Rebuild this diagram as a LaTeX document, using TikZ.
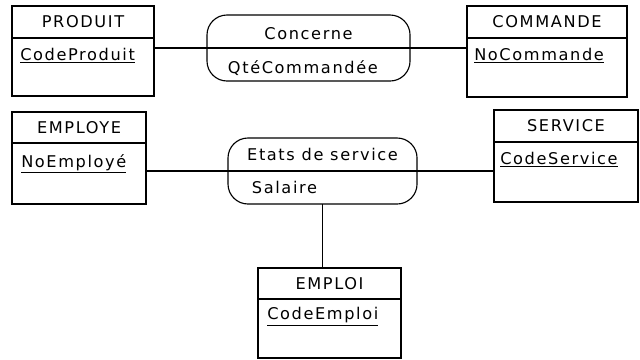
\documentclass[tikz,border=0pt]{standalone}
\usepackage{fontspec}
\newfontfamily\mcdfont[LetterSpace=10]{DejaVu Sans}
\usetikzlibrary{positioning, calc}

\begin{document}
\begin{tikzpicture}[
    x=0.025cm, y=-0.025cm,
    every node/.style={font=\mcdfont\fontsize{11.5}{13}\selectfont},
    entite/.style={draw, line width=0.8pt, inner sep=0pt, outer sep=0pt, minimum height=0.8cm, anchor=north west},
    corps/.style={draw, line width=0.8pt, inner sep=0pt, outer sep=0pt},
    relation/.style={draw, line width=0.8pt, rounded corners=0.5cm, minimum height=1.65cm, inner sep=0pt, outer sep=0pt, anchor=north west},
    attribut/.style={inner sep=0pt},
    lien/.style={line width=0.8pt}
]
    \useasboundingbox[fill=white] (0,0) rectangle (640,360);

    % entites
    \node[entite, minimum width=3.55cm] (produit) at (12,6) {PRODUIT};
    \node[corps, minimum width=3.55cm, minimum height=1.45cm, below=0pt of produit] (produitb) {};
    \node[attribut, below right=0.25cm and 0.2cm of produitb.north west] (codeproduit) {\underline{CodeProduit}};

    \node[entite, minimum width=4cm] (commande) at (467,6) {COMMANDE};
    \node[corps, minimum width=4cm, minimum height=1.475cm, below=0pt of commande] (commandeb) {};
    \node[attribut, below right=0.25cm and 0.175cm of commandeb.north west] (nocommande) {\underline{NoCommande}};

    \node[entite, minimum width=3.35cm, minimum height=0.775cm] (employe) at (12,112) {EMPLOYE};
    \node[corps, minimum width=3.35cm, minimum height=1.525cm, below=0pt of employe] (employeb) {};
    \node[attribut, below right=0.28cm and 0.225cm of employeb.north west] (noemploye) {\underline{NoEmployé}};

    \node[entite, minimum width=3.6cm] (service) at (494,110) {SERVICE};
    \node[corps, minimum width=3.6cm, minimum height=1.5cm, below=0pt of service] (serviceb) {};
    \node[attribut, below right=0.25cm and 0.15cm of serviceb.north west] (codeservice) {\underline{CodeService}};

    \node[entite, minimum width=3.575cm, minimum height=0.775cm] (emploi) at (258,268) {EMPLOI};
    \node[corps, minimum width=3.575cm, minimum height=1.475cm, below=0pt of emploi] (emploib) {};
    \node[attribut, below right=0.2cm and 0.225cm of emploib.north west] (codeemploi) {\underline{CodeEmploi}};

    % associations
    \node[relation, minimum width=5.075cm] (concerne) at (207,15) {};
    \draw[lien] (concerne.west) -- (concerne.east);
    \node (concernet) at ($(concerne.center)!0.45!(concerne.north)$) {Concerne};
    \node[anchor=west, xshift=0.4cm, yshift=-0.08cm] (qte) at ($(concerne.west)!0.5!(concerne.south west)$) {QtéCommandée};

    \node[relation, minimum width=4.725cm] (etats) at (228,138) {};
    \draw[lien] (etats.west) -- (etats.east);
    \node (etatst) at ($(etats.center)!0.5!(etats.north)$) {Etats de service};
    \node[anchor=west, xshift=0.475cm] (salaire) at ($(etats.west)!0.5!(etats.south west)$) {Salaire};

    % pattes
    \draw[lien] (concerne.west) -- (concerne.west -| produitb.east);
    \draw[lien] (concerne.east) -- (concerne.east -| commandeb.west);
    \draw[lien] (etats.west) -- (etats.west -| employeb.east);
    \draw[lien] (etats.east) -- (etats.east -| serviceb.west);
    \draw[lien] (etats.south) -- (etats.south |- emploi.north);
\end{tikzpicture}
\end{document}
